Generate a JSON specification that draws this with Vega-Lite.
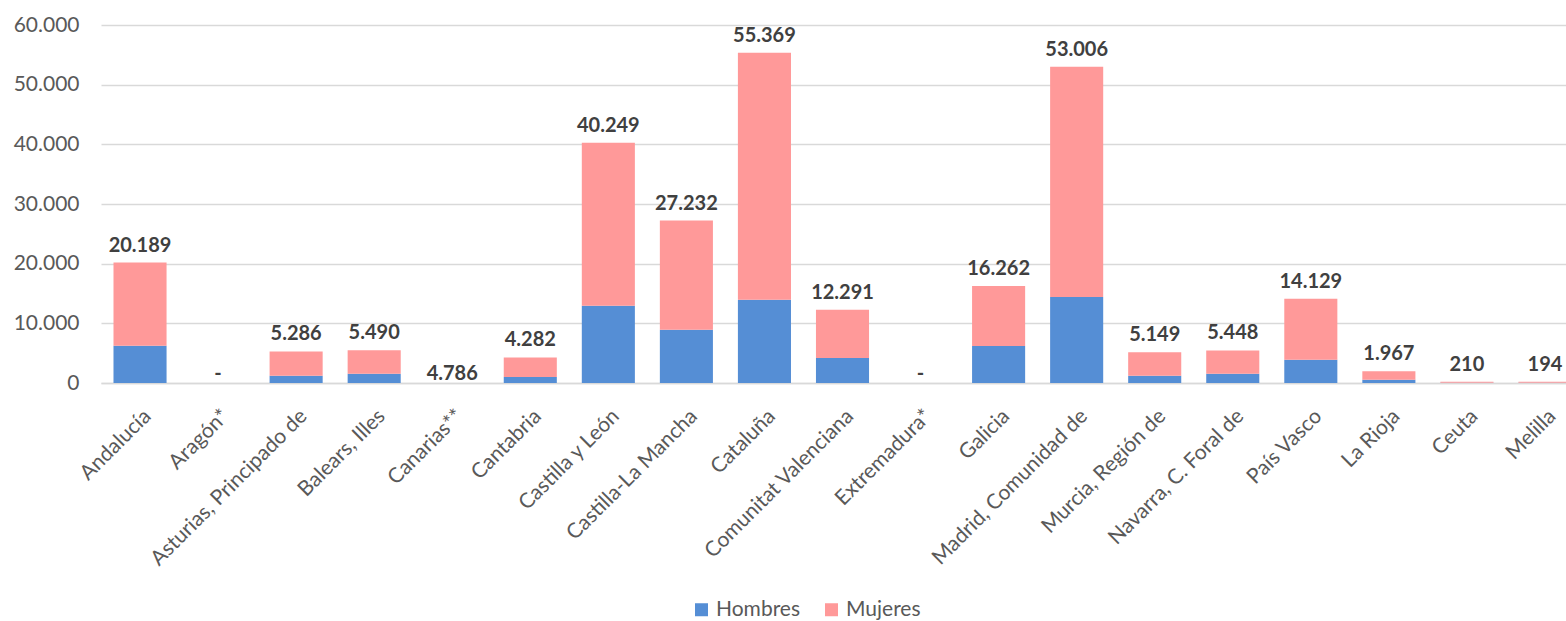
{
  "$schema": "https://vega.github.io/schema/vega-lite/v6.json",
  "width": 1483,
  "height": 358,
  "padding": {"left": 13, "top": 14, "right": 0, "bottom": 0},
  "background": "white",
  "config": {
    "locale": {"number": {"decimal": ",", "thousands": ".", "grouping": [3], "currency": ["", " €"]}},
    "view": {"stroke": null},
    "font": "Lato"
  },
  "data": {
    "values": [
      {"region": "Andalucía", "Hombres": 6250, "Mujeres": 13939, "label": "20.189"},
      {"region": "Aragón*", "Hombres": null, "Mujeres": null, "label": "-"},
      {"region": "Asturias, Principado de", "Hombres": 1220, "Mujeres": 4066, "label": "5.286"},
      {"region": "Balears, Illes", "Hombres": 1560, "Mujeres": 3930, "label": "5.490"},
      {"region": "Canarias**", "Hombres": null, "Mujeres": null, "label": "4.786"},
      {"region": "Cantabria", "Hombres": 1000, "Mujeres": 3282, "label": "4.282"},
      {"region": "Castilla y León", "Hombres": 12950, "Mujeres": 27299, "label": "40.249"},
      {"region": "Castilla-La Mancha", "Hombres": 8930, "Mujeres": 18302, "label": "27.232"},
      {"region": "Cataluña", "Hombres": 13950, "Mujeres": 41419, "label": "55.369"},
      {"region": "Comunitat Valenciana", "Hombres": 4190, "Mujeres": 8101, "label": "12.291"},
      {"region": "Extremadura*", "Hombres": null, "Mujeres": null, "label": "-"},
      {"region": "Galicia", "Hombres": 6200, "Mujeres": 10062, "label": "16.262"},
      {"region": "Madrid, Comunidad de", "Hombres": 14400, "Mujeres": 38606, "label": "53.006"},
      {"region": "Murcia, Región de", "Hombres": 1220, "Mujeres": 3929, "label": "5.149"},
      {"region": "Navarra, C. Foral de", "Hombres": 1560, "Mujeres": 3888, "label": "5.448"},
      {"region": "País Vasco", "Hombres": 3900, "Mujeres": 10229, "label": "14.129"},
      {"region": "La Rioja", "Hombres": 550, "Mujeres": 1417, "label": "1.967"},
      {"region": "Ceuta", "Hombres": 60, "Mujeres": 150, "label": "210"},
      {"region": "Melilla", "Hombres": 50, "Mujeres": 144, "label": "194"}
    ]
  },
  "encoding": {
    "x": {
      "field": "region",
      "type": "nominal",
      "sort": ["Andalucía", "Aragón*", "Asturias, Principado de", "Balears, Illes", "Canarias**", "Cantabria", "Castilla y León", "Castilla-La Mancha", "Cataluña", "Comunitat Valenciana", "Extremadura*", "Galicia", "Madrid, Comunidad de", "Murcia, Región de", "Navarra, C. Foral de", "País Vasco", "La Rioja", "Ceuta", "Melilla"],
      "scale": {"paddingInner": 0.32, "paddingOuter": 0.16},
      "axis": {
        "title": null,
        "labelAngle": -45,
        "labelFontSize": 21,
        "labelColor": "#595959",
        "labelPadding": 22,
        "labelOffset": 0,
        "ticks": false,
        "domainColor": "#D9D9D9",
        "domainWidth": 1.5,
        "labelLimit": 400
      }
    }
  },
  "layer": [
    {
      "transform": [{"fold": ["Hombres", "Mujeres"], "as": ["sexo", "valor"]}],
      "mark": {"type": "bar"},
      "encoding": {
        "y": {
          "field": "valor",
          "type": "quantitative",
          "aggregate": "sum",
          "stack": "zero",
          "scale": {"domain": [0, 60000], "nice": false},
          "axis": {
            "title": null,
            "values": [0, 10000, 20000, 30000, 40000, 50000, 60000],
            "format": ",d",
            "labelFontSize": 21,
            "labelColor": "#595959",
            "labelPadding": 22,
            "ticks": false,
            "domain": false,
            "gridColor": "#D9D9D9",
            "gridWidth": 1.5
          }
        },
        "color": {
          "field": "sexo",
          "type": "nominal",
          "scale": {"domain": ["Hombres", "Mujeres"], "range": ["#558ED5", "#FF9999"]},
          "legend": {
            "title": null,
            "orient": "none",
            "legendX": 590,
            "legendY": 574,
            "direction": "horizontal",
            "symbolType": "square",
            "symbolSize": 169,
            "symbolStrokeWidth": 0,
            "labelFontSize": 21,
            "labelColor": "#595959",
            "columnPadding": 20
          }
        },
        "order": {"field": "sexo", "sort": "ascending"}
      }
    },
    {
      "transform": [
        {"calculate": "(datum.Hombres || 0) + (datum.Mujeres || 0)", "as": "pos"},
        {"filter": "datum.pos > 0"}
      ],
      "mark": {"type": "text", "fontWeight": "bold", "fontSize": 20, "color": "#404040", "baseline": "alphabetic", "dy": -11},
      "encoding": {
        "y": {"field": "pos", "type": "quantitative"},
        "text": {"field": "label"}
      }
    },
    {
      "transform": [
        {"calculate": "(datum.Hombres || 0) + (datum.Mujeres || 0)", "as": "pos"},
        {"filter": "datum.pos == 0"}
      ],
      "mark": {"type": "text", "fontWeight": "bold", "fontSize": 20, "color": "#404040", "baseline": "alphabetic", "dy": -3},
      "encoding": {
        "y": {"field": "pos", "type": "quantitative"},
        "text": {"field": "label"}
      }
    }
  ]
}
